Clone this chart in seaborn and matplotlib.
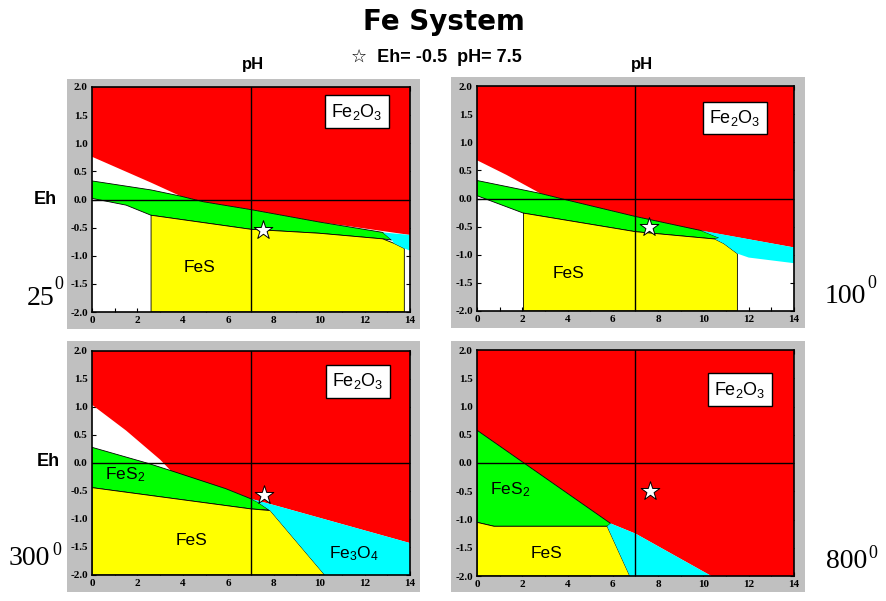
import matplotlib
matplotlib.use("Agg")
import matplotlib.pyplot as plt
import seaborn as sns
import pandas as pd
from matplotlib.patches import Rectangle, Polygon

# phase fields, (pH, Eh) vertices
red_25 = [(0, 2), (14, 2), (14, -0.63), (10, -0.40), (7, -0.18), (4.9, -0.04), (3.9, 0.06), (2.6, 0.30), (0, 0.76)]
green_25 = [(0, 0.33), (2.6, 0.17), (3.9, 0.06), (4.9, -0.04), (7, -0.18), (10, -0.40), (12.8, -0.585),
            (13.2, -0.72), (12.8, -0.70), (10, -0.60), (7, -0.53), (2.6, -0.28), (1.5, -0.10), (0, 0.02)]
yellow_25 = [(2.6, -0.28), (7, -0.53), (10, -0.60), (12.8, -0.70), (13.3, -0.78), (13.75, -0.87), (13.75, -2), (2.6, -2)]
cyan_25 = [(12.8, -0.585), (14, -0.63), (14, -0.91), (13.75, -0.87), (13.3, -0.78), (13.2, -0.72)]

red_100 = [(0, 2), (14, 2), (14, -0.87), (10, -0.58), (7, -0.32), (4, -0.03), (2.8, 0.09), (1.3, 0.42), (0, 0.68)]
green_100 = [(0, 0.32), (2.8, 0.09), (4, -0.03), (7, -0.32), (9.9, -0.57), (10.7, -0.70), (10.5, -0.72),
             (7, -0.59), (2.05, -0.26), (0, 0.05)]
cyan_100 = [(9.9, -0.57), (14, -0.87), (14, -1.15), (12, -1.05), (11.5, -0.98), (10.9, -0.80), (10.5, -0.72), (10.7, -0.70)]
yellow_100 = [(2.05, -0.26), (7, -0.59), (10.5, -0.72), (10.9, -0.80), (11.5, -0.98), (11.5, -2), (2.05, -2)]

red_300 = [(0, 2), (14, 2), (14, -1.43), (8, -0.75), (7, -0.64), (5.9, -0.46), (3.5, -0.15), (3, 0.06), (1.5, 0.58), (0, 1.04)]
green_300 = [(0, 0.28), (2.5, -0.01), (3.5, -0.14), (5.9, -0.46), (7, -0.64), (7.3, -0.70), (7.8, -0.84), (7, -0.82), (0, -0.44)]
cyan_300 = [(7.0, -0.64), (8, -0.75), (14, -1.43), (14, -2), (10.25, -2), (7.85, -0.85), (7.3, -0.70)]
yellow_300 = [(0, -0.44), (7, -0.82), (7.85, -0.85), (10.25, -2), (0, -2)]

red_800 = [(0, 2), (14, 2), (14, -2), (10.35, -2), (7, -1.25), (5.9, -1.07), (0, 0.58)]
green_800 = [(0, 0.58), (5.9, -1.07), (5.75, -1.12), (0.75, -1.12), (0, -1.05)]
yellow_800 = [(0, -1.05), (0.75, -1.12), (5.75, -1.12), (6.75, -2), (0, -2)]
cyan_800 = [(5.75, -1.12), (5.9, -1.07), (7, -1.25), (10.35, -2), (6.75, -2)]

temps = ["25", "100", "300", "800"]
star_ph = [7.54, 7.6, 7.57, 7.64]
star_eh = [-0.54, -0.5, -0.58, -0.5]

# labels: (text, pH, Eh)
labels_25 = [("FeS", 4.75, -1.2)]
labels_100 = [("FeS", 4.05, -1.33)]
labels_300 = [("FeS$_2$", 1.45, -0.2), ("FeS", 4.4, -1.38), ("Fe$_3$O$_4$", 11.55, -1.61)]
labels_800 = [("FeS$_2$", 1.45, -0.48), ("FeS", 3.05, -1.6)]
box_pos = [(11.65, 1.56), (11.4, 1.43), (11.7, 1.46), (11.6, 1.30)]

fields = [
    [(red_25, "#ff0000"), (green_25, "#00ff00"), (yellow_25, "#ffff00"), (cyan_25, "#00ffff")],
    [(red_100, "#ff0000"), (green_100, "#00ff00"), (yellow_100, "#ffff00"), (cyan_100, "#00ffff")],
    [(red_300, "#ff0000"), (green_300, "#00ff00"), (yellow_300, "#ffff00"), (cyan_300, "#00ffff")],
    [(red_800, "#ff0000"), (green_800, "#00ff00"), (yellow_800, "#ffff00"), (cyan_800, "#00ffff")],
]
labels = [labels_25, labels_100, labels_300, labels_800]

sns.set_style("ticks")
plt.rcParams["font.family"] = ["Liberation Sans", "DejaVu Sans"]
plt.rcParams["text.color"] = "black"
plt.rcParams["xtick.color"] = "black"
plt.rcParams["ytick.color"] = "black"
plt.rcParams["mathtext.fontset"] = "custom"
plt.rcParams["mathtext.rm"] = "Liberation Sans"
plt.rcParams["mathtext.it"] = "Liberation Sans"

fig = plt.figure(figsize=(8.87, 6.01), dpi=100)
W, H = 887, 601

frames = [(67, 79, 420, 329), (451, 77, 805, 328), (67, 341, 420, 592), (451, 341, 805, 592)]
boxes = [(92, 87, 410, 312), (477, 86, 794, 311), (92, 351, 410, 575), (477, 350, 794, 576)]

for i in range(4):
    x0, y0, x1, y1 = frames[i]
    fig.patches.append(Rectangle((x0 / W, 1 - y1 / H), (x1 - x0) / W, (y1 - y0) / H,
                                 transform=fig.transFigure, facecolor="#c0c0c0", edgecolor="none", zorder=-5))
    x0, y0, x1, y1 = boxes[i]
    ax = fig.add_axes([x0 / W, 1 - y1 / H, (x1 - x0) / W, (y1 - y0) / H])
    ax.set_zorder(2)
    ax.set_facecolor("white")

    for verts, col in fields[i]:
        ec = "black" if col in ("#00ff00", "#ffff00") else "none"
        ax.add_patch(Polygon(verts, closed=True, facecolor=col, edgecolor=ec, lw=0.6, zorder=1))

    ax.axvline(7, color="black", lw=1, zorder=2)
    ax.axhline(0, color="black", lw=1, zorder=2)

    star = pd.DataFrame({"pH": [star_ph[i]], "Eh": [star_eh[i]]})
    sns.scatterplot(data=star, x="pH", y="Eh", marker="*", s=200, color="white",
                    edgecolor="black", linewidth=0.7, ax=ax, zorder=4, legend=False)

    for txt, px, py in labels[i]:
        ax.text(px, py, txt, ha="center", va="center", fontsize=12.5, zorder=3)
    bx, by = box_pos[i]
    ax.text(bx, by, "Fe$_2$O$_3$", ha="center", va="center", fontsize=13, zorder=5,
            bbox=dict(boxstyle="square,pad=0.35", fc="white", ec="black", lw=1))

    ax.set_xlim(0, 14)
    ax.set_ylim(-2, 2)
    ax.set_xticks(range(0, 15, 2))
    ax.set_xticks(range(1, 14, 2), minor=True)
    ax.set_yticks([-2, -1.5, -1, -0.5, 0, 0.5, 1, 1.5, 2])
    ax.set_yticklabels(["-2.0", "-1.5", "-1.0", "-0.5", "0.0", "0.5", "1.0", "1.5", "2.0"])
    ax.tick_params(which="both", direction="in", top=True, right=True, length=3, width=0.8, color="black")
    ax.tick_params(which="major", labelsize=8, pad=3)
    for lab in ax.get_xticklabels() + ax.get_yticklabels():
        lab.set_family("Liberation Serif")
        lab.set_fontweight("bold")
    for sp in ax.spines.values():
        sp.set_linewidth(1.2)
        sp.set_color("black")
    ax.set_xlabel("")
    ax.set_ylabel("")

fig.text(444 / W, 1 - 22 / H, "Fe System", ha="center", va="center", fontsize=20,
         fontweight="heavy", family=["DejaVu Sans"])
fig.text(436 / W, 1 - 58 / H, "\u2606  Eh= -0.5  pH= 7.5", ha="center", va="center", fontsize=13,
         fontweight="bold", family=["Liberation Sans", "DejaVu Sans"])
fig.text(253 / W, 1 - 64 / H, "pH", ha="center", va="center", fontsize=12, fontweight="bold")
fig.text(642 / W, 1 - 64 / H, "pH", ha="center", va="center", fontsize=12, fontweight="bold")
fig.text(45 / W, 1 - 200 / H, "Eh", ha="center", va="center", fontsize=13, fontweight="bold")
fig.text(48 / W, 1 - 462 / H, "Eh", ha="center", va="center", fontsize=13, fontweight="bold")

# temperature labels
temp_pos = [(27, 305, 54, 289), (825, 303, 867, 288), (9, 565, 52, 555), (826, 568, 868, 558)]
for t, (tx, ty, sx, sy) in zip(temps, temp_pos):
    fig.text(tx / W, 1 - ty / H, t, ha="left", va="baseline", fontsize=20, family="Liberation Serif")
    fig.text(sx / W, 1 - sy / H, "0", ha="left", va="baseline", fontsize=13, family="Liberation Serif")

fig.savefig("out.png", dpi=100)
